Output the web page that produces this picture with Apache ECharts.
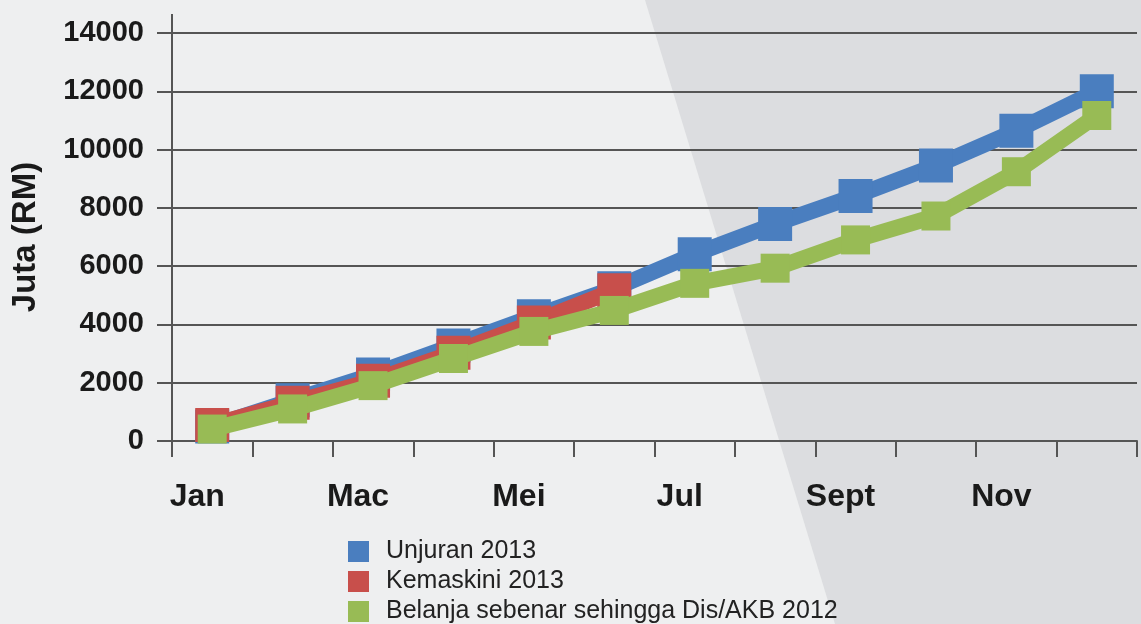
<!DOCTYPE html>
<html>
<head>
<meta charset="utf-8">
<script src="https://cdn.jsdelivr.net/npm/echarts@6/dist/echarts.min.js"></script>
<style>
  html, body { margin: 0; padding: 0; }
  #chart { width: 1141px; height: 624px; }
</style>
</head>
<body>
<div id="chart"></div>
<script>
const months = ['Jan', 'Feb', 'Mac', 'Apr', 'Mei', 'Jun', 'Jul', 'Ogos', 'Sept', 'Okt', 'Nov', 'Dis']
const unjuran2013 = [500, 1400, 2280, 3280, 4280, 5240, 6410, 7450, 8410, 9450, 10650, 12000]
const kemaskini2013 = [550, 1310, 2070, 3030, 4070, 5170]
const belanja2012 = [410, 1100, 1900, 2830, 3760, 4480, 5410, 5930, 6900, 7720, 9240, 11170]
const yTicks = [0, 2000, 4000, 6000, 8000, 10000, 12000, 14000]
const seriesNames = ['Unjuran 2013', 'Kemaskini 2013', 'Belanja sebenar sehingga Dis/AKB 2012']

const chart = echarts.init(document.getElementById('chart'))

const font = '"Liberation Sans", Arial, sans-serif'
const gridColor = '#555'

// one line + square markers per series
const lineSeries = (name, data, color, size, z) => ({
  name,
  type: 'line',
  data,
  z,
  symbol: 'rect',
  symbolSize: size,
  lineStyle: { color, width: 16 },
  itemStyle: { color },
  emphasis: { disabled: true }
})

// legend rows stacked by hand, one legend per entry
const legendRow = (name, i) => ({
  orient: 'vertical',
  left: 348,
  top: 539 + i * 30,
  padding: 0,
  itemWidth: 21,
  itemHeight: 21,
  icon: 'rect',
  selectedMode: false,
  textStyle: { fontSize: 25, color: '#222', fontFamily: font, padding: [0, 0, 0, 12] },
  data: [name]
})

const option = {
  backgroundColor: '#eeeff0',
  animation: false,
  textStyle: { fontFamily: font },
  graphic: [
    {
      type: 'polygon',
      z: -10,
      shape: { points: [[645, 0], [1141, 0], [1141, 624], [835, 624]] },
      style: { fill: '#dcdde0' }
    },
    {
      type: 'line',
      z: 5,
      shape: { x1: 172, y1: 14, x2: 172, y2: 33 },
      style: { stroke: gridColor, lineWidth: 2 }
    }
  ],
  grid: { left: 172, right: 4, top: 33, bottom: 183 },
  legend: seriesNames.map(legendRow),
  xAxis: {
    type: 'category',
    data: months,
    boundaryGap: true,
    axisLine: { lineStyle: { color: gridColor, width: 2 } },
    axisTick: { show: true, interval: 0, length: 16, lineStyle: { color: gridColor, width: 2 } },
    axisLabel: {
      interval: 1,
      margin: 40,
      fontSize: 32,
      fontWeight: 'bold',
      color: '#1a1a1a',
      fontFamily: font,
      padding: [0, 30, 0, 0]
    }
  },
  yAxis: {
    type: 'value',
    min: yTicks[0],
    max: yTicks[yTicks.length - 1],
    interval: 2000,
    name: 'Juta (RM)',
    nameLocation: 'middle',
    nameGap: 130,
    nameRotate: 90,
    nameTextStyle: { fontSize: 33, fontWeight: 'bold', color: '#1a1a1a', fontFamily: font },
    axisLine: { show: true, lineStyle: { color: gridColor, width: 2 } },
    axisTick: { show: true, length: 15, lineStyle: { color: gridColor, width: 2 } },
    axisLabel: {
      margin: 28,
      fontSize: 29,
      fontWeight: 'bold',
      color: '#1a1a1a',
      fontFamily: font,
      formatter: v => String(v)
    },
    splitLine: { show: true, lineStyle: { color: gridColor, width: 2 } }
  },
  series: [
    lineSeries(seriesNames[0], unjuran2013, '#4a7ebf', 34, 2),
    lineSeries(seriesNames[1], kemaskini2013, '#c84f4b', 34, 3),
    lineSeries(seriesNames[2], belanja2012, '#98bb55', 29, 4)
  ]
}

chart.setOption(option)
</script>
</body>
</html>
